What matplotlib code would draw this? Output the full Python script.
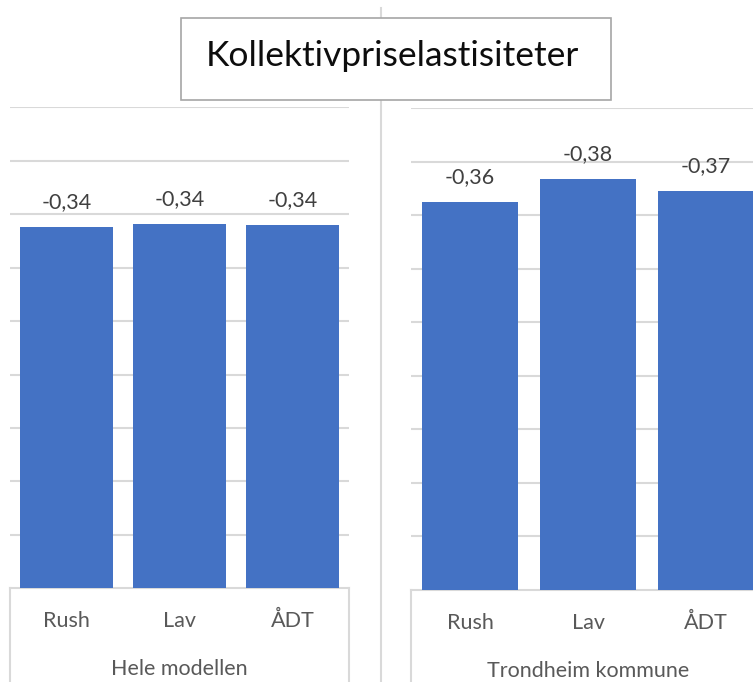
import matplotlib

matplotlib.use('Agg')
import matplotlib.pyplot as plt
from matplotlib.patches import Rectangle
from matplotlib.lines import Line2D

# elasticities (bars are drawn as magnitudes)
categories = ['Rush', 'Lav', 'ÅDT']
hele_modellen = [-0.338, -0.341, -0.340]
trondheim = [-0.362, -0.384, -0.373]
groups = ['Hele modellen', 'Trondheim kommune']
title = 'Kollektivpriselastisiteter'
grid_ticks = [0.05, 0.10, 0.15, 0.20, 0.25, 0.30, 0.35, 0.40, 0.45]

plt.rcParams['font.family'] = ['Lato', 'DejaVu Sans']
W, H = 753, 682
PT = 0.72  # points per pixel at dpi 100
bar_color = '#4472C4'
grid_color = '#d9d9d9'
text_color = '#595959'

fig = plt.figure(figsize=(W / 100, H / 100), dpi=100)


def panel(left, base, width, top, values, group):
    ax = fig.add_axes([left / W, (H - base) / H, width / W, (base - top) / H])
    heights = [abs(v) for v in values]
    x = range(len(categories))
    ax.bar(x, heights, width=0.82, color=bar_color, zorder=3)
    ax.set_xlim(-0.5, len(categories) - 0.5)
    ax.set_ylim(0, 0.45)
    ax.set_yticks(grid_ticks)
    ax.yaxis.grid(True, color=grid_color, linewidth=1.5, zorder=0)
    ax.tick_params(left=False, bottom=False, labelleft=False, labelbottom=False)
    for s in ['left', 'right', 'top']:
        ax.spines[s].set_visible(False)
    ax.spines['bottom'].set_color(grid_color)
    ax.spines['bottom'].set_linewidth(1.5)
    # category axis box
    for xe in (0, 1):
        ax.plot([xe, xe], [0, -0.3], transform=ax.transAxes, color=grid_color,
                linewidth=1.5, clip_on=False)
    for i, v in enumerate(values):
        lab = ('%.2f' % v).replace('.', ',')
        ax.annotate(lab, (i, heights[i]), xytext=(0, 19 * PT), textcoords='offset points',
                    ha='center', va='baseline', fontsize=15.5, color='#404040')
        ax.annotate(categories[i], (i, 0), xycoords=('data', 'axes fraction'),
                    xytext=(0, -39 * PT), textcoords='offset points',
                    ha='center', va='baseline', fontsize=15.5, color=text_color)
    ax.annotate(group, (1, 0), xycoords=('data', 'axes fraction'),
                xytext=(0, -87 * PT), textcoords='offset points',
                ha='center', va='baseline', fontsize=15.5, color=text_color)
    return ax


panel(10, 588.3, 339, 107.3, hele_modellen, groups[0])
panel(411, 590, 354, 108.3, trondheim, groups[1])

# separator line between the two charts
fig.add_artist(Line2D([381 / W, 381 / W], [0, (H - 8) / H], color=grid_color,
                      linewidth=1.5, transform=fig.transFigure, zorder=1))

# title box
fig.add_artist(Rectangle((181 / W, (H - 100) / H), 430 / W, 82 / H,
                         transform=fig.transFigure, facecolor='white',
                         edgecolor='#a6a6a6', linewidth=1.2, zorder=5))
fig.text(392 / W, (H - 65.7) / H, title, ha='center', va='baseline',
         fontsize=25.5, color='#0d0d0d', zorder=6)

fig.savefig('out.png', dpi=100)
